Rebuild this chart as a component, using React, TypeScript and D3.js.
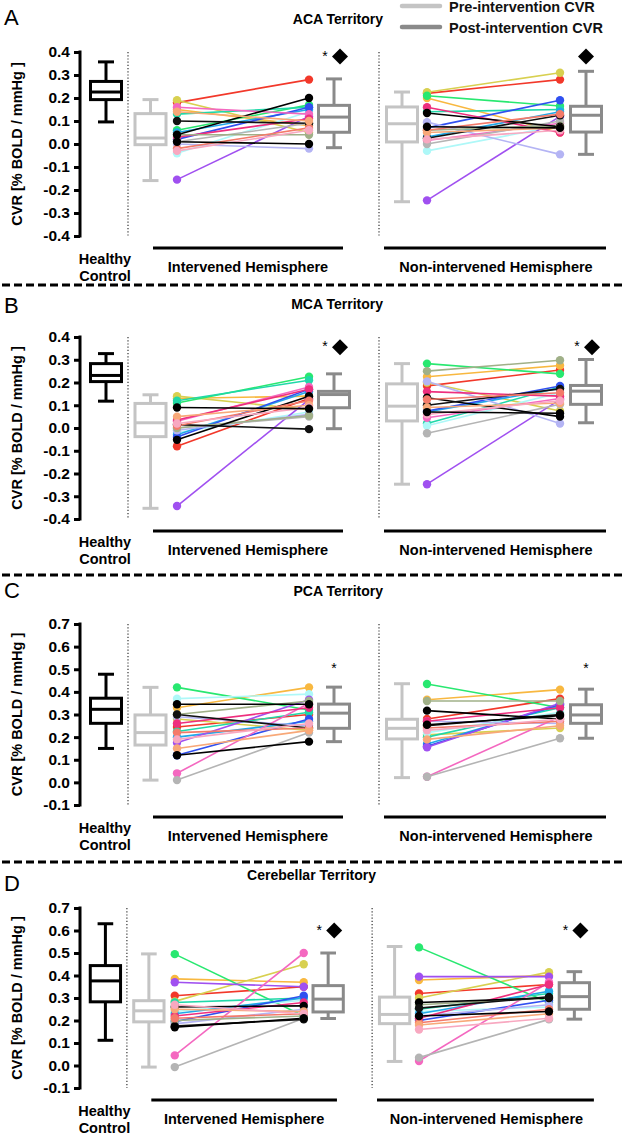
import React, { useRef, useEffect } from 'react';
import * as d3 from 'd3';

// ---- data ----
const panelLetters = ['A', 'B', 'C', 'D'];
const panelTitles = ['ACA Territory', 'MCA Territory', 'PCA Territory', 'Cerebellar Territory'];
const yDomains = [[-0.4, 0.4], [-0.4, 0.4], [-0.1, 0.7], [-0.1, 0.7]];
const groupLabels = ['Intervened Hemisphere', 'Non-intervened Hemisphere'];
const legendLabels = ['Pre-intervention CVR', 'Post-intervention CVR'];

const subjectColors = [
  '#f2382a', '#f8b840', '#d8d050', '#28e870', '#20d8a8',
  '#aef8f8', '#20a8e8', '#3050f0', '#a050f0', '#b4b4f4',
  '#f468c0', '#ee2f7e', '#b4b4b4', '#a0b088', '#000000',
  '#111111', '#f47a6a', '#f8a878', '#f8a8c0', '#000000',
];

// box stats: [min, q1, median, q3, max]
const healthyBoxes = [
  [0.096, 0.193, 0.226, 0.272, 0.357],
  [0.118, 0.204, 0.231, 0.283, 0.327],
  [0.15, 0.261, 0.323, 0.372, 0.478],
  [0.112, 0.283, 0.376, 0.444, 0.63],
];
const intPreBoxes = [
  [-0.159, -0.003, 0.026, 0.132, 0.193],
  [-0.353, -0.038, 0.023, 0.108, 0.146],
  [0.01, 0.165, 0.22, 0.298, 0.42],
  [-0.007, 0.194, 0.243, 0.288, 0.496],
];
const intPostBoxes = [
  [-0.016, 0.051, 0.117, 0.168, 0.283],
  [-0.003, 0.089, 0.147, 0.161, 0.238],
  [0.18, 0.239, 0.306, 0.346, 0.421],
  [0.209, 0.238, 0.295, 0.355, 0.5],
];
const nonPreBoxes = [
  [-0.251, 0.009, 0.088, 0.161, 0.226],
  [-0.247, 0.031, 0.096, 0.194, 0.283],
  [0.021, 0.192, 0.239, 0.279, 0.436],
  [0.018, 0.186, 0.227, 0.304, 0.529],
];
const nonPostBoxes = [
  [-0.045, 0.052, 0.125, 0.164, 0.316],
  [0.023, 0.104, 0.162, 0.187, 0.301],
  [0.195, 0.261, 0.298, 0.343, 0.412],
  [0.206, 0.25, 0.306, 0.368, 0.417],
];

// per-subject CVR, one row per panel (20 subjects, same colour order)
const intPre = [
  [0.18, 0.15, 0.19, 0.06, 0.13, -0.04, 0.05, 0.02, -0.155, 0.0, 0.16, 0.03, 0.01, 0.04, 0.04, 0.10, -0.02, 0.14, -0.03, 0.01],
  [-0.08, 0.13, 0.14, 0.11, 0.12, -0.02, -0.03, -0.04, -0.343, -0.01, 0.03, 0.035, 0.0, 0.0, -0.052, 0.015, 0.01, 0.05, 0.02, 0.09],
  [0.245, 0.33, 0.28, 0.42, 0.225, 0.37, 0.20, 0.12, 0.175, 0.29, 0.04, 0.26, 0.01, 0.30, 0.345, 0.30, 0.22, 0.15, 0.19, 0.12],
  [0.31, 0.385, 0.285, 0.495, 0.28, 0.24, 0.23, 0.195, 0.37, 0.185, 0.045, 0.22, -0.007, 0.20, 0.26, 0.175, 0.21, 0.25, 0.27, 0.17],
];
const intPost = [
  [0.28, 0.08, 0.05, 0.17, 0.16, 0.14, 0.15, 0.16, 0.12, -0.02, 0.13, 0.11, 0.09, 0.04, 0.20, 0.09, 0.07, 0.10, 0.06, 0.0],
  [0.13, 0.14, 0.08, 0.225, 0.21, 0.07, 0.16, 0.17, 0.125, 0.06, 0.18, 0.17, 0.05, 0.055, 0.14, -0.005, 0.12, 0.10, 0.09, 0.085],
  [0.30, 0.42, 0.23, 0.32, 0.31, 0.39, 0.27, 0.28, 0.365, 0.25, 0.35, 0.33, 0.22, 0.36, 0.345, 0.24, 0.24, 0.23, 0.26, 0.18],
  [0.35, 0.37, 0.45, 0.22, 0.30, 0.29, 0.30, 0.31, 0.35, 0.25, 0.50, 0.28, 0.21, 0.22, 0.265, 0.205, 0.23, 0.24, 0.23, 0.21],
];
const nonPre = [
  [0.22, 0.20, 0.225, 0.21, 0.14, -0.03, 0.03, 0.07, -0.245, 0.095, 0.015, 0.16, 0.0, 0.06, 0.135, 0.025, 0.06, 0.05, 0.02, 0.075],
  [0.185, 0.225, 0.20, 0.283, 0.02, 0.01, 0.07, 0.075, -0.247, 0.205, 0.045, 0.16, -0.023, 0.25, 0.133, 0.10, 0.125, 0.09, 0.06, 0.07],
  [0.28, 0.365, 0.21, 0.435, 0.20, 0.22, 0.17, 0.16, 0.155, 0.27, 0.025, 0.27, 0.025, 0.36, 0.317, 0.25, 0.24, 0.19, 0.23, 0.255],
  [0.32, 0.38, 0.30, 0.525, 0.25, 0.24, 0.23, 0.20, 0.395, 0.22, 0.02, 0.21, 0.035, 0.27, 0.28, 0.255, 0.19, 0.18, 0.16, 0.22],
];
const nonPost = [
  [0.28, 0.05, 0.31, 0.165, 0.15, 0.08, 0.14, 0.19, 0.12, -0.045, 0.09, 0.05, 0.10, 0.08, 0.075, 0.125, 0.13, 0.07, 0.06, 0.07],
  [0.255, 0.275, 0.075, 0.238, 0.18, 0.155, 0.175, 0.185, 0.125, 0.02, 0.13, 0.14, 0.104, 0.298, 0.05, 0.172, 0.155, 0.11, 0.12, 0.065],
  [0.37, 0.41, 0.24, 0.33, 0.33, 0.31, 0.34, 0.345, 0.35, 0.26, 0.29, 0.33, 0.195, 0.36, 0.28, 0.30, 0.27, 0.25, 0.28, 0.295],
  [0.36, 0.40, 0.415, 0.28, 0.32, 0.26, 0.33, 0.29, 0.395, 0.27, 0.37, 0.36, 0.205, 0.30, 0.30, 0.305, 0.25, 0.23, 0.21, 0.24],
];

// significance markers above post boxes
const intMarks = [['*', '◆'], ['*', '◆'], ['*'], ['*', '◆']];
const nonMarks = [['◆'], ['*', '◆'], ['*'], ['*', '◆']];
const markValues = [0.38, 0.355, 0.5, 0.6];

// ---- layout ----
const W = 625;
const H = 1135;
const axisTops = [52, 337, 624, 908];
const axisBottoms = [236, 519, 805, 1088];
const letterBaselines = [25, 313, 598, 891];
const xStretch = [1, 1, 1, 0.977];
const separators = [285, 575, 862];
const FONT = '"Liberation Sans", Arial, Helvetica, sans-serif';
const PRE_GRAY = '#c4c4c4';
const POST_GRAY = '#8a8a8a';

const App = () => {
  const chartRef = useRef(null);

  useEffect(() => {
    document.body.style.margin = '0';
    const svg = d3.select(chartRef.current);
    svg.selectAll('*').remove();
    svg.attr('width', W).attr('height', H).style('font-family', FONT);

    // legend
    legendLabels.forEach((lab, i) => {
      const ly = [6, 27][i];
      svg.append('line').attr('x1', 402).attr('x2', 440).attr('y1', ly).attr('y2', ly)
        .attr('stroke', i === 0 ? PRE_GRAY : POST_GRAY).attr('stroke-width', 4.5).attr('stroke-linecap', 'round');
      svg.append('text').attr('x', 449).attr('y', ly + 6).attr('font-size', 14.5).attr('font-weight', 'bold')
        .attr('fill', '#111').text(lab);
    });

    // separators
    separators.forEach((sy) => {
      svg.append('line').attr('x1', 2).attr('x2', 623).attr('y1', sy).attr('y2', sy)
        .attr('stroke', '#000').attr('stroke-width', 3).attr('stroke-dasharray', '8,4');
    });

    panelLetters.forEach((letter, p) => {
      const top = axisTops[p];
      const bottom = axisBottoms[p];
      const x = d3.scaleLinear().domain([80, 606]).range([80, 80 + 526 * xStretch[p]]);
      const y = d3.scaleLinear().domain(yDomains[p]).range([bottom, top]);
      const g = svg.append('g');

      g.append('text').attr('x', 4).attr('y', letterBaselines[p]).attr('font-size', 22).text(letter);
      g.append('text').attr('x', x(383)).attr('y', top - 28).attr('text-anchor', 'end')
        .attr('font-size', 14).attr('font-weight', 'bold').text(panelTitles[p]);

      // y axis
      const [lo, hi] = yDomains[p];
      const ticks = d3.range(Math.round(lo * 10), Math.round(hi * 10) + 1).map((v) => v / 10);
      const yAxis = d3.axisLeft(y).tickValues(ticks).tickFormat((v) => (+v).toFixed(1))
        .tickSize(6).tickSizeOuter(0).tickPadding(4);
      const ag = g.append('g').attr('transform', `translate(${x(80)},0)`).call(yAxis);
      ag.select('.domain').attr('stroke-width', 3).attr('d', `M0,${bottom + 1.5}V${top - 1.5}`);
      ag.selectAll('.tick line').attr('stroke-width', 3);
      ag.selectAll('.tick text').attr('font-size', 15.5).attr('font-weight', 'bold')
        .attr('font-family', FONT).attr('fill', '#000');

      g.append('text').attr('transform', `translate(22,${(top + bottom) / 2}) rotate(-90)`)
        .attr('text-anchor', 'middle').attr('font-size', 14.5).attr('font-weight', 'bold')
        .text('CVR [% BOLD / mmHg ]');

      // dotted dividers
      [128, 379].forEach((dx) => {
        g.append('line').attr('x1', x(dx)).attr('x2', x(dx)).attr('y1', top).attr('y2', bottom)
          .attr('stroke', '#333').attr('stroke-width', 1.2).attr('stroke-dasharray', '1.2,2');
      });

      // box plots
      const drawBox = (stats, cx, color) => {
        const [mn, q1, md, q3, mx] = stats;
        const c = x(cx);
        const hw = 15.5 * xStretch[p];
        const cw = 8 * xStretch[p];
        const bg = g.append('g').attr('stroke', color).attr('stroke-width', 3).attr('fill', 'none');
        bg.append('line').attr('x1', c).attr('x2', c).attr('y1', y(mx)).attr('y2', y(q3));
        bg.append('line').attr('x1', c).attr('x2', c).attr('y1', y(q1)).attr('y2', y(mn));
        bg.append('line').attr('x1', c - cw).attr('x2', c + cw).attr('y1', y(mx)).attr('y2', y(mx));
        bg.append('line').attr('x1', c - cw).attr('x2', c + cw).attr('y1', y(mn)).attr('y2', y(mn));
        bg.append('rect').attr('x', c - hw).attr('width', 2 * hw).attr('y', y(q3)).attr('height', y(q1) - y(q3))
          .attr('fill', '#fff');
        bg.append('line').attr('x1', c - hw).attr('x2', c + hw).attr('y1', y(md)).attr('y2', y(md));
      };
      drawBox(healthyBoxes[p], 106, '#000');
      drawBox(intPreBoxes[p], 150.5, PRE_GRAY);
      drawBox(intPostBoxes[p], 334, POST_GRAY);
      drawBox(nonPreBoxes[p], 402, PRE_GRAY);
      drawBox(nonPostBoxes[p], 586, POST_GRAY);

      // subject lines
      const drawPairs = (pre, post, x0, x1) => {
        const pg = g.append('g');
        pre.forEach((v, i) => {
          pg.append('line').attr('x1', x(x0)).attr('x2', x(x1)).attr('y1', y(v)).attr('y2', y(post[i]))
            .attr('stroke', subjectColors[i]).attr('stroke-width', 1.6);
        });
        pre.forEach((v, i) => {
          pg.append('circle').attr('cx', x(x0)).attr('cy', y(v)).attr('r', 4.2).attr('fill', subjectColors[i]);
          pg.append('circle').attr('cx', x(x1)).attr('cy', y(post[i])).attr('r', 4.2).attr('fill', subjectColors[i]);
        });
      };
      drawPairs(intPre[p], intPost[p], 177, 309);
      drawPairs(nonPre[p], nonPost[p], 427, 560);

      // significance marks
      const drawMarks = (marks, cx) => {
        const my = y(markValues[p]);
        const both = marks.length === 2;
        marks.forEach((m, k) => {
          const mx = x(cx) + (both ? (k === 0 ? -9 : 6) : 0);
          if (m === '*') {
            g.append('text').attr('x', mx).attr('y', my + 4).attr('text-anchor', 'middle')
              .attr('font-size', 14).text('*');
          } else {
            g.append('path').attr('d', d3.symbol(d3.symbolSquare, 128)())
              .attr('transform', `translate(${mx},${my}) rotate(45)`).attr('fill', '#000');
          }
        });
      };
      drawMarks(intMarks[p], 334);
      drawMarks(nonMarks[p], 586);

      // group underlines & labels
      [[153, 343], [384, 606]].forEach(([a, b], k) => {
        g.append('line').attr('x1', x(a)).attr('x2', x(b)).attr('y1', bottom + 12).attr('y2', bottom + 12)
          .attr('stroke', '#000').attr('stroke-width', 3);
        g.append('text').attr('x', x(k === 0 ? 248 : 496)).attr('y', bottom + 36).attr('text-anchor', 'middle')
          .attr('font-size', 14.5).attr('font-weight', 'bold').text(groupLabels[k]);
      });
      ['Healthy', 'Control'].forEach((t, k) => {
        g.append('text').attr('x', x(105)).attr('y', bottom + 28 + 17 * k).attr('text-anchor', 'middle')
          .attr('font-size', 14.5).attr('font-weight', 'bold').text(t);
      });
    });
  }, []);

  return <svg ref={chartRef}></svg>;
};

export default App;
